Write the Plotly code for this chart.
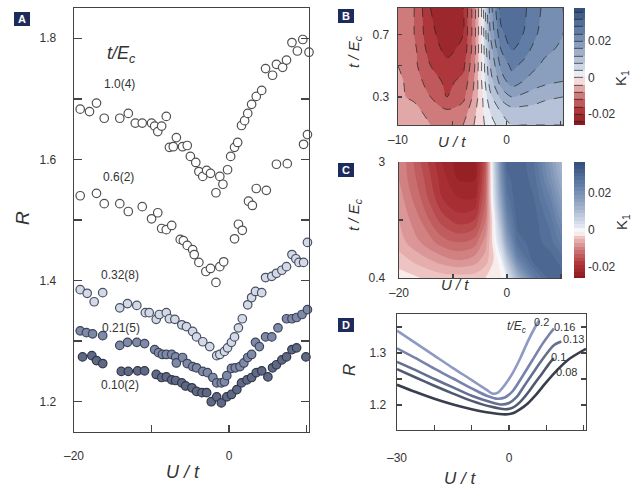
import plotly.graph_objects as go

W, H = 638, 489

# ---------------- Panel A data (U/t, R) ----------------
A_U_10 = [-19.2, -18.0, -17.1, -16.1, -14.1, -13.0, -12.1, -11.2, -10.0, -9.6, -9.2, -8.7, -8.1, -7.7, -7.2, -6.8,
          -6.0, -5.4, -5.0, -4.3, -3.9, -3.4, -2.9, -2.4, -1.7, -1.2, -0.8, -0.2, 0.2, 0.7, 1.1, 1.6, 2.0, 2.4,
          2.9, 3.5, 4.2, 4.7, 5.6, 6.1, 6.9, 7.4, 8.1, 8.8, 9.5, 10.3]
A_R_10 = [1.683, 1.679, 1.693, 1.668, 1.668, 1.676, 1.660, 1.660, 1.660, 1.655, 1.646, 1.655, 1.671, 1.620, 1.621,
          1.636, 1.621, 1.623, 1.605, 1.595, 1.580, 1.572, 1.582, 1.577, 1.545, 1.572, 1.559, 1.583, 1.605, 1.620,
          1.628, 1.656, 1.664, 1.676, 1.691, 1.704, 1.714, 1.750, 1.739, 1.757, 1.752, 1.764, 1.793, 1.779, 1.798,
          1.777]

A_U_06 = [-19.2, -17.1, -16.1, -14.1, -13.0, -11.2, -10.0, -9.2, -8.7, -8.1, -7.4, -6.3, -5.9, -5.4, -4.7, -4.5,
          -3.9, -3.0, -2.4, -1.7, -1.2, -0.7, 0.7, 1.2, 1.7, 2.5, 3.0, 3.5, 4.8, 6.1, 7.5, 9.6, 10.1]
A_R_06 = [1.540, 1.544, 1.527, 1.527, 1.514, 1.522, 1.502, 1.512, 1.486, 1.484, 1.491, 1.468, 1.466, 1.458, 1.451,
          1.443, 1.430, 1.415, 1.420, 1.397, 1.423, 1.431, 1.469, 1.493, 1.483, 1.531, 1.524, 1.552, 1.549, 1.592,
          1.593, 1.625, 1.641]

A_U_032 = [-19.2, -18.3, -17.4, -16.3, -14.1, -13.1, -11.9, -10.8, -10.3, -9.4, -9.0, -8.1, -7.7, -7.0, -6.1, -5.5,
           -4.7, -4.2, -3.4, -2.5, -1.6, -1.2, -0.6, -0.2, 0.3, 0.7, 1.2, 1.7, 2.4, 2.9, 3.4, 4.2, 4.7, 5.5, 6.1,
           6.8, 7.4, 8.1, 8.6, 9.0, 9.6, 10.1]
A_R_032 = [1.385, 1.379, 1.365, 1.380, 1.355, 1.362, 1.359, 1.347, 1.347, 1.336, 1.344, 1.347, 1.337, 1.336, 1.327,
           1.324, 1.316, 1.307, 1.299, 1.291, 1.276, 1.278, 1.283, 1.289, 1.298, 1.307, 1.322, 1.337, 1.360, 1.372,
           1.382, 1.380, 1.405, 1.407, 1.412, 1.417, 1.423, 1.443, 1.436, 1.430, 1.430, 1.463]

A_U_021 = [-19.2, -18.4, -17.6, -16.3, -14.1, -13.1, -11.9, -10.9, -9.6, -9.1, -8.6, -8.1, -7.4, -6.9, -6.8, -6.0,
           -5.4, -4.7, -4.2, -3.4, -2.8, -2.1, -1.6, -1.0, -0.6, -0.3, 0.3, 0.8, 1.4, 1.9, 2.4, 2.9, 3.4, 3.9, 4.7,
           5.5, 6.3, 7.4, 8.1, 8.7, 9.4, 10.1]
A_R_021 = [1.317, 1.314, 1.312, 1.309, 1.293, 1.298, 1.298, 1.296, 1.286, 1.281, 1.278, 1.278, 1.278, 1.274, 1.264,
           1.273, 1.263, 1.258, 1.256, 1.250, 1.248, 1.240, 1.231, 1.231, 1.233, 1.243, 1.255, 1.256, 1.258, 1.264,
           1.273, 1.278, 1.298, 1.291, 1.307, 1.307, 1.322, 1.337, 1.337, 1.339, 1.344, 1.352]

A_U_010 = [-18.9, -17.7, -17.1, -16.3, -13.9, -13.0, -11.8, -10.9, -9.4, -8.7, -8.1, -7.4, -6.9, -6.1, -5.6, -4.8,
           -4.2, -3.5, -2.9, -2.3, -1.6, -1.0, -0.3, 0.3, 1.0, 1.6, 2.3, 2.9, 3.5, 4.2, 5.0, 5.6, 6.1, 6.8, 7.4,
           8.1, 8.7, 9.9, 10.4]
A_R_010 = [1.274, 1.276, 1.268, 1.263, 1.250, 1.250, 1.251, 1.251, 1.245, 1.240, 1.241, 1.236, 1.235, 1.231, 1.226,
           1.223, 1.217, 1.215, 1.215, 1.200, 1.208, 1.198, 1.208, 1.212, 1.220, 1.231, 1.236, 1.240, 1.248, 1.251,
           1.241, 1.256, 1.261, 1.269, 1.274, 1.286, 1.289, 1.274, 1.283]

A_labels = ["1.0(4)", "0.6(2)", "0.32(8)", "0.21(5)", "0.10(2)"]

# ---------------- Panel B data (K1 map) ----------------
B_U = [-10, -8.5, -7, -5.5, -4, -3, -2.3, -1.5, -0.5, 0.5, 1.5, 2.5, 3.5, 5.2]
B_T = [0.12, 0.2, 0.3, 0.4, 0.5, 0.6, 0.7, 0.87]
B_K = [
    [-0.005, -0.004, -0.008, -0.009, -0.008, -0.004, -0.001, 0.002, 0.006, 0.008, 0.008, 0.008, 0.008, 0.008],
    [-0.006, -0.006, -0.010, -0.011, -0.010, -0.005, -0.001, 0.004, 0.008, 0.010, 0.010, 0.010, 0.009, 0.009],
    [-0.007, -0.009, -0.012, -0.016, -0.013, -0.007, -0.001, 0.007, 0.013, 0.016, 0.015, 0.014, 0.013, 0.012],
    [-0.007, -0.010, -0.014, -0.017, -0.015, -0.008, 0.000, 0.010, 0.018, 0.022, 0.020, 0.018, 0.017, 0.016],
    [-0.008, -0.011, -0.016, -0.019, -0.017, -0.009, 0.000, 0.012, 0.021, 0.025, 0.023, 0.021, 0.019, 0.018],
    [-0.008, -0.011, -0.018, -0.021, -0.019, -0.010, 0.000, 0.014, 0.024, 0.028, 0.026, 0.023, 0.021, 0.019],
    [-0.008, -0.012, -0.019, -0.022, -0.020, -0.010, 0.000, 0.016, 0.027, 0.030, 0.028, 0.025, 0.022, 0.020],
    [-0.008, -0.012, -0.020, -0.022, -0.020, -0.010, 0.000, 0.018, 0.030, 0.031, 0.029, 0.026, 0.023, 0.020],
]

# ---------------- Panel C data (K1 map, theory) ----------------
C_U = [-20, -16, -12, -9, -6, -4, -2.5, -1, 0, 2, 5, 8, 10.2]
C_T = [0.4, 0.8, 1.2, 1.7, 2.2, 2.6, 3.0]
C_K = [
    [-0.002, -0.003, -0.004, -0.004, -0.004, -0.003, -0.002, -0.001, 0.001, 0.012, 0.024, 0.030, 0.030],
    [-0.004, -0.006, -0.008, -0.009, -0.008, -0.006, -0.003, 0.001, 0.008, 0.022, 0.030, 0.030, 0.028],
    [-0.006, -0.009, -0.012, -0.013, -0.012, -0.008, -0.002, 0.006, 0.016, 0.028, 0.030, 0.028, 0.024],
    [-0.007, -0.011, -0.016, -0.018, -0.017, -0.011, -0.001, 0.012, 0.022, 0.030, 0.030, 0.026, 0.020],
    [-0.008, -0.013, -0.019, -0.021, -0.021, -0.013, 0.002, 0.017, 0.026, 0.031, 0.029, 0.023, 0.016],
    [-0.009, -0.014, -0.020, -0.023, -0.023, -0.014, 0.003, 0.020, 0.028, 0.031, 0.028, 0.020, 0.013],
    [-0.009, -0.015, -0.021, -0.024, -0.024, -0.015, 0.004, 0.022, 0.030, 0.031, 0.027, 0.018, 0.011],
]

# ---------------- Panel D data (theory curves) ----------------
D_U_020 = [-30, -25, -20, -15, -10, -6, -4.5, -3, -1, 1, 3, 5, 7, 8]
D_R_020 = [1.343, 1.319, 1.295, 1.271, 1.248, 1.229, 1.222, 1.224, 1.240, 1.262, 1.290, 1.322, 1.350, 1.362]
D_U_016 = [-30, -25, -20, -15, -10, -6, -3, -1, 1, 4, 7, 9, 11, 12]
D_R_016 = [1.309, 1.290, 1.270, 1.251, 1.232, 1.218, 1.212, 1.215, 1.227, 1.260, 1.295, 1.318, 1.338, 1.347]
D_U_013 = [-30, -25, -20, -15, -10, -5, -2, 0, 2, 4, 7, 10, 12, 14]
D_R_013 = [1.283, 1.267, 1.250, 1.234, 1.218, 1.206, 1.201, 1.204, 1.215, 1.236, 1.268, 1.298, 1.315, 1.322]
D_U_010 = [-30, -25, -20, -15, -10, -5, -1, 1, 3, 5, 7, 9, 11, 12]
D_R_010 = [1.269, 1.253, 1.237, 1.222, 1.208, 1.197, 1.192, 1.195, 1.206, 1.223, 1.243, 1.262, 1.282, 1.290]
D_U_008 = [-30, -25, -20, -15, -10, -5, -1, 1, 3, 5, 7, 10, 13, 16, 20.6]
D_R_008 = [1.239, 1.225, 1.212, 1.201, 1.192, 1.185, 1.182, 1.184, 1.192, 1.203, 1.218, 1.244, 1.268, 1.288, 1.308]
D_labels = ["0.2", "0.16", "0.13", "0.1", "0.08"]


def px(x):
    return x / W


def py(y):
    return 1 - y / H


FONT = "Liberation Sans, Arial, sans-serif"
TXT = "#333333"
AX = "#444444"

fig = go.Figure()

# Panel A scatter
a_series = [
    (A_U_10, A_R_10, "white", "#505050"),
    (A_U_06, A_R_06, "white", "#505050"),
    (A_U_032, A_R_032, "#d3d9e6", "#4a5062"),
    (A_U_021, A_R_021, "#7f89a8", "#3c4458"),
    (A_U_010, A_R_010, "#5f6983", "#30364a"),
]
for u, r, fc, lc in a_series:
    fig.add_trace(go.Scatter(x=u, y=r, mode="markers", xaxis="x", yaxis="y", cliponaxis=False,
                             marker=dict(size=8.5, color=fc, line=dict(color=lc, width=1.2)),
                             showlegend=False, hoverinfo="skip"))

cs = [[0.0, "#8c1a1d"], [0.12, "#ad3438"], [0.25, "#cf7b7c"], [0.36, "#f0c8c7"], [0.403, "#ffffff"],
      [0.45, "#e2e7f0"], [0.6, "#a7b6ce"], [0.8, "#6580a8"], [1.0, "#354f7e"]]
ZMIN, ZMAX = -0.0256, 0.0368

cb_common = dict(x=px(574), xanchor="left", lenmode="fraction", thickness=11, thicknessmode="pixels",
                 xpad=0, ypad=0, outlinewidth=0, ticks="", yanchor="middle",
                 tickvals=[-0.02, 0, 0.02], ticktext=["-0.02", "0", "0.02"],
                 tickfont=dict(size=12, color=TXT, family=FONT))

fig.add_trace(go.Contour(x=B_U, y=B_T, z=B_K, xaxis="x2", yaxis="y2", colorscale=cs, zmin=ZMIN, zmax=ZMAX,
                         zauto=False, autocontour=False,
                         contours=dict(start=-0.024, end=0.036, size=0.004, coloring="fill"),
                         line=dict(color="#222222", width=0.7, dash="dash"),
                         colorbar=dict(y=py(66.5), len=117 / H, **cb_common),
                         hoverinfo="skip"))

fig.add_trace(go.Contour(x=C_U, y=C_T, z=C_K, xaxis="x3", yaxis="y3", colorscale=cs, zmin=ZMIN, zmax=ZMAX,
                         zauto=False, autocontour=False,
                         contours=dict(start=-0.025, end=0.036, size=0.002, coloring="fill"),
                         line=dict(width=0),
                         colorbar=dict(y=py(220), len=116 / H, **cb_common),
                         hoverinfo="skip"))

d_series = [
    (D_U_020, D_R_020, "#8e9ac4"),
    (D_U_016, D_R_016, "#7883ad"),
    (D_U_013, D_R_013, "#656f90"),
    (D_U_010, D_R_010, "#515970"),
    (D_U_008, D_R_008, "#393e4c"),
]
for u, r, c in d_series:
    fig.add_trace(go.Scatter(x=u, y=r, mode="lines", xaxis="x4", yaxis="y4",
                             line=dict(color=c, width=2.6, shape="spline", smoothing=0.8),
                             showlegend=False, hoverinfo="skip"))


def axis(domain, anchor, rng, major, labels, minor_vals, ticklen, standoff, mirror):
    d = dict(domain=domain, anchor=anchor, range=rng, showgrid=False, zeroline=False, ticks="inside",
             linecolor=AX, linewidth=1.3, tickcolor=AX, tickwidth=1.3, ticklen=ticklen,
             tickfont=dict(size=12, color=TXT, family=FONT), showline=True, automargin=False,
             tickmode="array", tickvals=major, ticktext=labels, ticklabelstandoff=standoff, mirror=mirror,
             fixedrange=True)
    if minor_vals:
        d["minor"] = dict(tickmode="array", tickvals=minor_vals, ticks="inside", ticklen=ticklen,
                          tickcolor=AX, tickwidth=1.3, showgrid=False)
    return d


fig.update_layout(
    width=W, height=H, margin=dict(l=0, r=0, t=0, b=0, pad=0, autoexpand=False),
    paper_bgcolor="white", plot_bgcolor="white",
    font=dict(family=FONT, color=TXT),
    xaxis=axis([px(74), px(309)], "y", [-20, 10.3], [-20, 0], ["\u201320", "0"], [-10, 10], 7, 12, True),
    yaxis=axis([py(432), py(8)], "x", [1.15, 1.85], [1.2, 1.4, 1.6, 1.8], ["1.2", "1.4", "1.6", "1.8"],
               [1.3, 1.5, 1.7], 8, 14, "ticks"),
    xaxis2=axis([px(398), px(563)], "y2", [-10, 5.2], [-10, 0], ["\u201310", "0"], [-5, 5], 4, 3, True),
    yaxis2=axis([py(125), py(8)], "x2", [0.12, 0.87], [0.3, 0.7], ["0.3", "0.7"], [0.5], 4, 5, True),
    xaxis3=axis([px(399), px(562)], "y3", [-20, 10.2], [-20, 0], ["\u201320", "0"], [-10, 10], 4, 3, False),
    yaxis3=axis([py(278), py(162)], "x3", [0.4, 3.0], [0.4, 3.0], ["0.4", "3"], [1.7], 4, 10, False),
    xaxis4=axis([px(397), px(586)], "y4", [-30, 20.6], [-30, 0], ["\u201330", "0"], [-20, -10, 10, 20], 5, 16,
                True),
    yaxis4=axis([py(430), py(314)], "x4", [1.152, 1.375], [1.2, 1.3], ["1.2", "1.3"], [1.25, 1.35], 5, 7,
                "ticks"),
)

ann = []


def add_text(x, y, text, size=12, angle=0, color=TXT, italic=False):
    ann.append(dict(x=px(x), y=py(y), xref="paper", yref="paper", text=text, showarrow=False,
                    xanchor="center", yanchor="middle", textangle=angle,
                    font=dict(size=size, color=color, family=FONT,
                              style="italic" if italic else "normal")))


# Panel A texts
add_text(121, 55, "t/E<sub>c</sub>", size=18, italic=True)
for (lx, ly), lab in zip([(119, 84), (118, 177), (120, 275), (121, 328), (120, 385)], A_labels):
    add_text(lx, ly, lab, size=12)
add_text(22, 218, "R", size=19, angle=-90, italic=True)
add_text(183, 472, "U / t", size=18, italic=True)

# Panel B texts
add_text(354, 52, "t / E<sub>c</sub>", size=15, angle=-90, italic=True)
add_text(452, 141, "U / t", size=15, italic=True)
add_text(622, 78, "K<sub>1</sub>", size=15, angle=-90)

# Panel C texts
add_text(354, 215, "t / E<sub>c</sub>", size=15, angle=-90, italic=True)
add_text(455, 284, "U / t", size=15, italic=True)
add_text(622, 222, "K<sub>1</sub>", size=15, angle=-90)

# Panel D texts
add_text(349, 370, "R", size=17, angle=-90, italic=True)
add_text(460, 478, "U / t", size=17, italic=True)
add_text(517, 327, "t/E<sub>c</sub>", size=12, italic=True)
for (lx, ly), lab in zip([(541, 322), (564, 327), (573, 339), (558, 357), (566, 372)], D_labels):
    add_text(lx, ly, lab, size=11)

# Panel letters
shapes = []
for letter, (bx, by) in zip("ABCD", [(14, 12), (338, 9), (338, 163), (338, 318)]):
    shapes.append(dict(type="rect", xref="paper", yref="paper", x0=px(bx), x1=px(bx + 16),
                       y0=py(by + 14), y1=py(by), fillcolor="#1d2b5c", line=dict(width=0)))
    ann.append(dict(x=px(bx + 8), y=py(by + 7), xref="paper", yref="paper", text="<b>" + letter + "</b>",
                    showarrow=False, xanchor="center", yanchor="middle",
                    font=dict(size=11, color="white", family=FONT)))

fig.update_layout(annotations=ann, shapes=shapes)

fig.write_html("out.html", config={"displayModeBar": False, "staticPlot": True},
               post_script="document.body.style.margin='0';document.body.style.padding='0';")
